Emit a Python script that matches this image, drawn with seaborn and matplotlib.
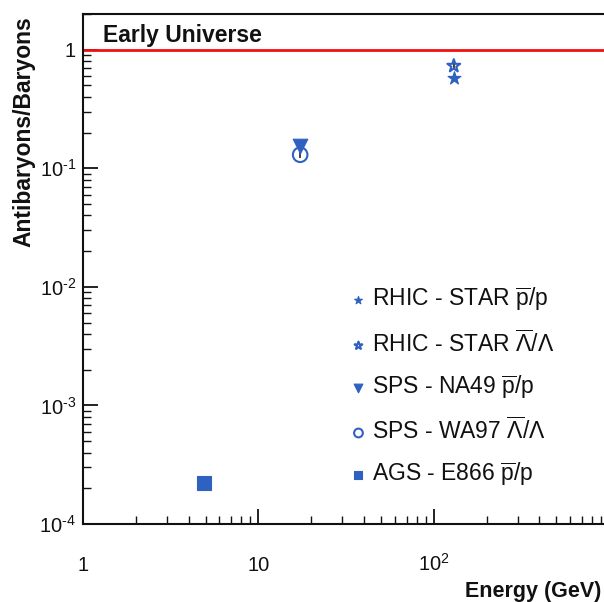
import numpy as np
import pandas as pd
import matplotlib
matplotlib.use('Agg')
import matplotlib.pyplot as plt
import seaborn as sns
from matplotlib.ticker import FixedLocator, FixedFormatter, LogLocator, NullFormatter

# antibaryon/baryon ratios vs collision energy
series = ['RHIC - STAR $\\overline{\\mathrm{p}}$/p',
          'RHIC - STAR $\\overline{\\Lambda}/\\Lambda$',
          'SPS - NA49 $\\overline{\\mathrm{p}}$/p',
          'SPS - WA97 $\\overline{\\Lambda}/\\Lambda$',
          'AGS - E866 $\\overline{\\mathrm{p}}$/p']
energy = [130.0, 130.0, 17.3, 17.3, 4.9]
ratio = [0.58, 0.73, 0.155, 0.13, 0.00022]
ratio_err = [0.03, 0.04, 0.01, 0.008, 0.00002]
markers = ['*', '*', 'v', 'o', 's']
filled = [True, False, True, False, True]
early_universe = 1.0

xticks = [1, 10, 100]
xticklabels = ['1', '10', '$10^{2}$']
yticks = [1e-4, 1e-3, 1e-2, 1e-1, 1]
yticklabels = ['$10^{\\text{-}4}$', '$10^{\\text{-}3}$', '$10^{\\text{-}2}$',
               '$10^{\\text{-}1}$', '1']

df = pd.DataFrame({'series': series, 'energy': energy, 'ratio': ratio})

sns.set_theme(style='ticks')
plt.rcParams['font.family'] = ['Liberation Sans', 'DejaVu Sans']
plt.rcParams['mathtext.fontset'] = 'custom'
plt.rcParams['mathtext.rm'] = 'Liberation Sans'
plt.rcParams['mathtext.it'] = 'Liberation Sans:italic'
plt.rcParams['mathtext.bf'] = 'Liberation Sans:bold'
plt.rcParams['text.color'] = '#111111'
plt.rcParams['axes.labelcolor'] = '#111111'

blue = '#2f62c0'

fig = plt.figure(figsize=(6.04, 6.02), dpi=100)
ax = fig.add_axes([83/604, 78/602, 1.002 - 83/604, 510/602])

ax.axhline(early_universe, color='#f01010', lw=2, zorder=1)

ax.errorbar(energy, ratio, yerr=ratio_err, fmt='none', ecolor='#222222',
            elinewidth=1.2, capsize=0, zorder=2)

for i, row in df.iterrows():
    ms = 95 if markers[i] == '*' else 110
    if filled[i]:
        sns.scatterplot(x=[row['energy']], y=[row['ratio']], ax=ax, marker=markers[i],
                        s=ms, color=blue, edgecolor=blue, linewidth=0.8,
                        label=row['series'], zorder=3)
    else:
        sns.scatterplot(x=[row['energy']], y=[row['ratio']], ax=ax, marker=markers[i],
                        s=ms, facecolor='none', edgecolor=blue, linewidth=1.5,
                        label=row['series'], zorder=3)

ax.set_xscale('log')
ax.set_yscale('log')
ax.set_xlim(1, 10 ** ((604 - 83) / 175))
ax.set_ylim(1e-4, 2.0)

ax.xaxis.set_major_locator(FixedLocator(xticks))
ax.xaxis.set_major_formatter(FixedFormatter(xticklabels))
ax.yaxis.set_major_locator(FixedLocator(yticks))
ax.yaxis.set_major_formatter(FixedFormatter(yticklabels))
ax.xaxis.set_minor_locator(LogLocator(base=10, subs=np.arange(2, 10), numticks=20))
ax.yaxis.set_minor_locator(LogLocator(base=10, subs=np.arange(2, 10), numticks=20))
ax.xaxis.set_minor_formatter(NullFormatter())
ax.yaxis.set_minor_formatter(NullFormatter())

ax.tick_params(which='major', direction='in', length=11, width=1.3, labelsize=14.5,
               colors='#111111')
ax.tick_params(which='minor', direction='in', length=6, width=1.0, colors='#111111')
ax.tick_params(axis='x', which='major', pad=34)
ax.tick_params(axis='y', which='major', pad=5)
ax.tick_params(top=False, right=False, which='both')
for lab in ax.get_xticklabels():
    lab.set_verticalalignment('baseline')

for s in ['left', 'bottom', 'top']:
    ax.spines[s].set_linewidth(1.5)
    ax.spines[s].set_color('#111111')
ax.spines['right'].set_visible(False)

ax.set_xlabel('Energy (GeV)', fontsize=15.5, fontweight='bold', loc='right')
ax.xaxis.set_label_coords(1.0 - 4 / 521, -0.111)
ax.set_ylabel('Antibaryons/Baryons', fontsize=16.5, fontweight='bold')
ax.yaxis.set_label_coords(-0.092, 0.77)

ax.text(0.038, 0.958, 'Early Universe', transform=ax.transAxes, fontsize=16.5,
        fontweight='bold', color='#111111', va='center', ha='left')

leg = ax.legend(loc='upper left', bbox_to_anchor=(0.488, 0.485), frameon=False,
                fontsize=16.5, markerscale=0.6, handletextpad=0.1,
                handlelength=1.0, labelspacing=0.72, borderaxespad=0)
for t in leg.get_texts():
    t.set_color('#111111')

fig.savefig('out.png', dpi=100)
